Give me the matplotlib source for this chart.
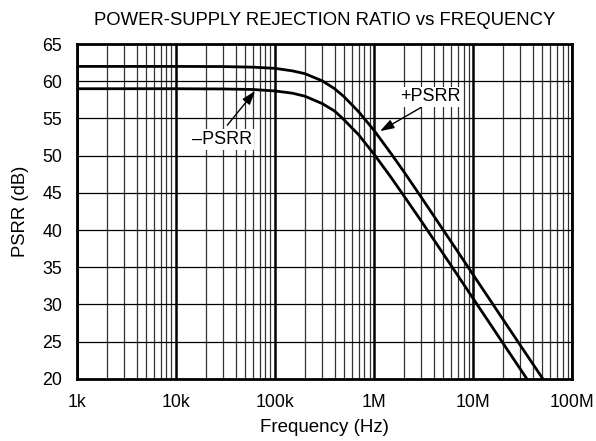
import numpy as np
import matplotlib.pyplot as plt
from matplotlib.ticker import FixedLocator, NullFormatter

plt.rcParams['font.family'] = ['Liberation Sans', 'DejaVu Sans']

# frequencies (Hz)
freq = [1e3, 1e4, 3e4, 6e4, 1e5, 1.5e5, 2e5, 3e5, 4e5, 5e5, 7e5, 1e6,
        1.5e6, 2e6, 3e6, 5e6, 7e6, 1e7, 1.5e7, 2e7, 3e7, 5e7, 6e7]
# +PSRR (dB)
psrr_pos = [62.0, 62.0, 61.98, 61.9, 61.74, 61.4, 61.03, 60.06, 59.0, 57.9,
            55.9, 53.4, 50.2, 47.85, 44.4, 40.0, 37.1, 34.0, 30.5, 28.0,
            24.5, 20.1, 18.5]
# -PSRR (dB)
psrr_neg = [59.0, 59.0, 58.97, 58.9, 58.7, 58.4, 58.0, 57.0, 56.0, 54.8,
            52.8, 50.2, 47.0, 44.6, 41.2, 36.8, 33.9, 30.8, 27.3, 24.8,
            21.3, 16.9, 15.3]

xticks = [1e3, 1e4, 1e5, 1e6, 1e7, 1e8]
xlabels = ["1k", "10k", "100k", "1M", "10M", "100M"]
yticks = list(range(20, 70, 5))

fig = plt.figure(figsize=(5.96, 4.41), dpi=100)
ax = fig.add_axes([0.129, 0.141, 0.831, 0.759])

ax.set_xscale("log")
ax.set_xlim(1e3, 1e8)
ax.set_ylim(20, 65)

# grid: minor verticals thin, decade verticals thick, horizontals thin
minors = [m * d for d in xticks[:-1] for m in range(2, 10)]
for x in minors:
  ax.axvline(x, color="#333333", lw=0.9, zorder=1)
for x in xticks:
  ax.axvline(x, color="black", lw=1.8, zorder=1)
for y in yticks:
  ax.axhline(y, color="black", lw=0.9, zorder=1)

ax.plot(freq, psrr_pos, color="black", lw=2.0, zorder=3)
ax.plot(freq, psrr_neg, color="black", lw=2.0, zorder=3)

ax.set_xticks(xticks)
ax.set_xticklabels(xlabels)
ax.xaxis.set_minor_locator(FixedLocator(minors))
ax.xaxis.set_minor_formatter(NullFormatter())
ax.set_yticks(yticks)
ax.tick_params(axis="both", which="both", length=0, labelsize=12.8)
ax.tick_params(axis="x", pad=11)
ax.tick_params(axis="y", pad=10.5)

for s in ax.spines.values():
  s.set_linewidth(2.0)
  s.set_zorder(4)

ax.set_xlabel("Frequency (Hz)", fontsize=13.5, labelpad=6)
ax.set_ylabel("PSRR (dB)", fontsize=13.3, labelpad=10)
ax.set_title("POWER-SUPPLY REJECTION RATIO vs FREQUENCY", fontsize=13.3, pad=13.5)

bbox = dict(boxstyle="square,pad=0.1", fc="white", ec="none")
arrow = dict(arrowstyle="-|>,head_length=0.6,head_width=0.2", color="black", lw=1.0,
             mutation_scale=14, shrinkA=0, shrinkB=0)
ax.annotate("", xy=(6.3e4, 58.7), xytext=(3.3e4, 54.1), arrowprops=arrow, zorder=5)
ax.text(2.9e4, 52.2, "\u2013PSRR", ha="center", va="center", fontsize=13, bbox=bbox, zorder=5)
ax.annotate("", xy=(1.15e6, 53.3), xytext=(3.0e6, 56.5), arrowprops=arrow, zorder=5)
ax.text(3.7e6, 57.9, "+PSRR", ha="center", va="center", fontsize=13, bbox=bbox, zorder=5)

fig.savefig("out.png", dpi=100)
